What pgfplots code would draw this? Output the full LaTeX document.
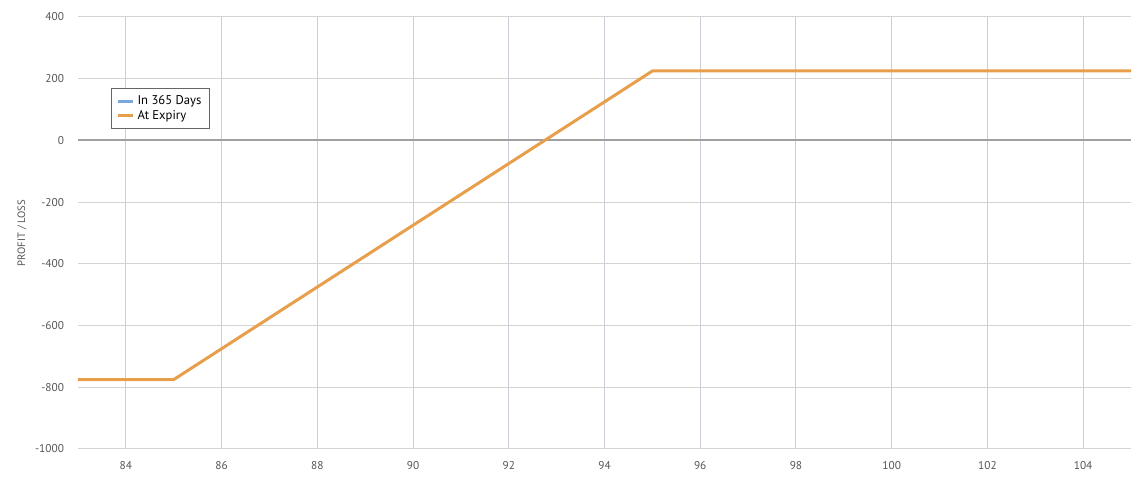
\documentclass[border=0pt]{standalone}
\usepackage{fontspec}
\setmainfont{PT Sans}
\usepackage{pgfplots}
\pgfplotsset{compat=1.18}
\definecolor{expiry}{HTML}{E89F4C}
\definecolor{days}{HTML}{7BA7E0}
\definecolor{gridc}{HTML}{D3D3D3}
\definecolor{gridx}{HTML}{CBCED6}
\definecolor{zeroc}{HTML}{A0A0A0}
\definecolor{tickc}{HTML}{555555}
\begin{document}
\begin{tikzpicture}
\begin{axis}[
  at={(0,0)}, anchor=south west,
  scale only axis, width=789.75pt, height=324pt,
  xmin=83, xmax=105, ymin=-1000, ymax=400,
  xtick={84,86,...,104}, ytick={-1000,-800,...,400},
  axis line style={draw=none},
  major tick length=0pt,
  grid=major,
  x grid style={gridx, line width=0.75pt},
  y grid style={gridc, line width=0.75pt},
  tick label style={font=\fontsize{8.5}{10}\selectfont, text=tickc},
  /pgf/number format/assume math mode=true,
  /pgf/number format/set thousands separator={},
  xticklabel style={yshift=-6pt},
  yticklabel style={xshift=-7pt},
  ylabel={PROFIT / LOSS},
  ylabel style={font=\fontsize{8}{9}\selectfont, text=tickc, at={(axis description cs:-0.0532,0.5)}, anchor=center},
  legend style={at={(rel axis cs:0.0313,0.8356)}, anchor=north west, draw=gray!80!black, line width=0.7pt,
     font=\fontsize{9.5}{11}\selectfont, row sep=-1.5pt, inner xsep=4pt, inner ysep=3.5pt},
  legend cell align=left,
  legend image code/.code={\draw[#1, line width=2.2pt] (0pt,0pt) -- (0.4cm,0pt);},
  clip=false,
]
\addplot[zeroc, line width=1.6pt, forget plot] coordinates {(83,0) (105,0)};
\addlegendimage{days}
\addlegendentry{In 365 Days}
\addplot[expiry, line width=2.25pt] coordinates {(83,-775) (85,-775) (95,225) (105,225)};
\addlegendentry{At Expiry}
\end{axis}
\pgfresetboundingbox
\path (-58.5pt,-21.75pt) rectangle (801pt,336.75pt);
\end{tikzpicture}
\end{document}
